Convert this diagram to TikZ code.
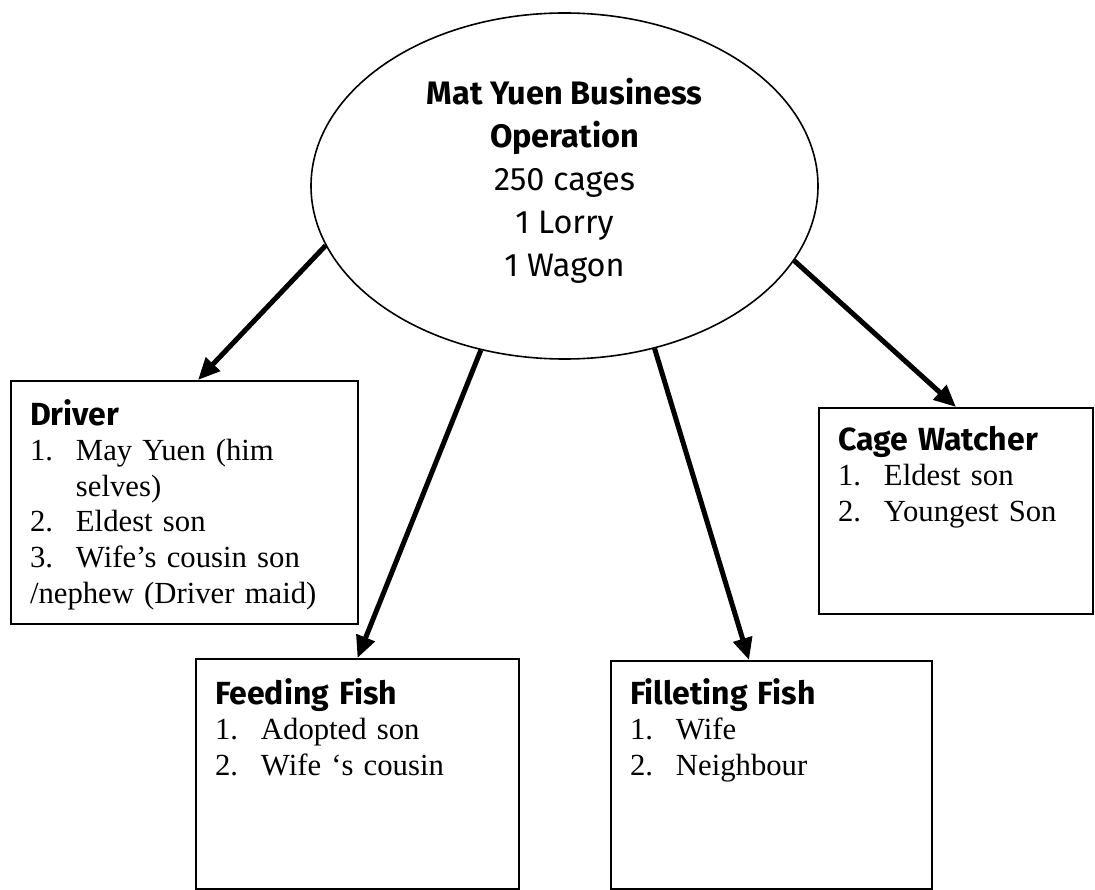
\documentclass[tikz,border=0pt]{standalone}
\usepackage{fontspec}
\setmainfont{Liberation Serif}
\newfontfamily\comicfont{Fira Sans}
\usetikzlibrary{
arrows.meta,
shapes.geometric
}

\newcommand{\boxhead}[1]{{\comicfont\bfseries\fontsize{32}{35.6}\selectfont #1}}
\newcommand{\itm}[2]{\makebox[46pt][l]{#1}#2}

\begin{document}
\begin{tikzpicture}[
    x=1pt, y=-1pt,
    >={Triangle[length=22pt,width=19pt]},
    op/.style={draw, ellipse,
      line width=1.6pt,
      minimum width=507pt,
      minimum height=346pt,
      align=center,
      font=\comicfont\fontsize{32.5}{43}\selectfont},
    box/.style={draw,
      line width=2pt,
      anchor=north west,
      inner xsep=19pt,
      inner ysep=0pt,
      align=left,
      text width=#1,
      font=\fontsize{30.7}{35.6}\selectfont},
    link/.style={->, line width=5pt}
  ]
  \useasboundingbox (0,0) rectangle (1095,890);

  \node[op] (Op) at (564.5,186) {%
    \textbf{Mat Yuen Business}\\
    \textbf{Operation}\\
    250 cages\\
    1 Lorry\\
    1 Wagon\rule[-17pt]{0pt}{1pt}};

  \node[box=309pt, text height=44pt, text depth=199pt] (Drv) at (10,380) {%
    \boxhead{Driver}\\
    \itm{1.}{May Yuen (him}\\
    \hspace*{46pt}selves)\\
    \itm{2.}{Eldest son}\\
    \itm{3.}{Wife’s cousin son}\\
    /nephew (Driver maid)};
  \node[box=285pt, text height=45pt, text depth=185pt] (Feed) at (195,658) {%
    \boxhead{Feeding Fish}\\
    \itm{1.}{Adopted son}\\
    \itm{2.}{Wife ‘s cousin}};
  \node[box=283pt, text height=43pt, text depth=185pt] (Fil) at (610,660) {%
    \boxhead{Filleting Fish}\\
    \itm{1.}{Wife}\\
    \itm{2.}{Neighbour}};
  \node[box=236pt, text height=42pt, text depth=164pt] (Cage) at (818,407) {%
    \boxhead{Cage Watcher}\\
    \itm{1.}{Eldest son}\\
    \itm{2.}{Youngest Son}};

  \draw[link] (Op.194.7) -- ([xshift=13.5pt]Drv.north);
  \draw[link] (Op.243.9) -- (Feed.north);
  \draw[link] (Op.299.2) -- ([xshift=-22.5pt]Fil.north);
  \draw[link] (Op.342.3) -- (Cage.north);
\end{tikzpicture}
\end{document}
